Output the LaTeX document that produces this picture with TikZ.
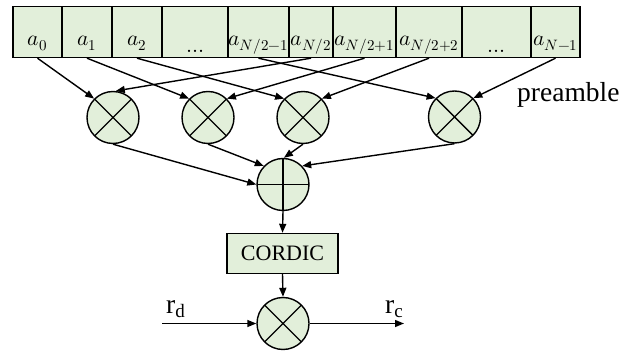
\documentclass[tikz,border=0pt]{standalone}
\usepackage{fontspec}
\usepackage{unicode-math}
\setmainfont{Liberation Serif}
\setmathfont{Latin Modern Math}
\usetikzlibrary{arrows.meta}
\definecolor{cellgreen}{RGB}{226,239,218}
\newcommand{\cellmath}[1]{{\fontsize{21.5}{24}\selectfont$#1$}}
\tikzset{
  ln/.style={line width=1.4pt},
  arr/.style={ln, -{Triangle[length=9pt,width=7pt]}},
  cell/.style={rectangle, draw, ln, fill=cellgreen, minimum height=51pt, inner sep=0pt},
  mult/.style={circle, draw, ln, fill=cellgreen, minimum size=52pt, inner sep=0pt,
    path picture={\draw[ln] (path picture bounding box.north west) -- (path picture bounding box.south east)
      (path picture bounding box.north east) -- (path picture bounding box.south west);}},
  adder/.style={circle, draw, ln, fill=cellgreen, minimum size=52pt, inner sep=0pt,
    path picture={\draw[ln] (path picture bounding box.north) -- (path picture bounding box.south)
      (path picture bounding box.west) -- (path picture bounding box.east);}},
  box/.style={rectangle, draw, ln, fill=cellgreen, minimum width=111pt, minimum height=40pt, inner sep=0pt,
    font=\fontsize{22}{24}\selectfont},
  atext/.style={anchor=base, inner sep=0pt},
  lbl/.style={anchor=base west, inner sep=0pt, font=\fontsize{27.5}{30}\selectfont},
}
\begin{document}
\begin{tikzpicture}[x=1pt,y=-1pt]
\useasboundingbox (0,0) rectangle (639,352);
% array cells
\node[cell, minimum width=49pt] (c0) at (37.5,32) {};
\node[cell, minimum width=50pt] (c1) at (87,32) {};
\node[cell, minimum width=50pt] (c2) at (137,32) {};
\node[cell, minimum width=66pt] (c3) at (195,32) {};
\node[cell, minimum width=61pt] (c4) at (258.5,32) {};
\node[cell, minimum width=44pt] (c5) at (311,32) {};
\node[cell, minimum width=63pt] (c6) at (364.5,32) {};
\node[cell, minimum width=66pt] (c7) at (429,32) {};
\node[cell, minimum width=69pt] (c8) at (496.5,32) {};
\node[cell, minimum width=49pt] (c9) at (555.5,32) {};
% cell texts
\node[atext] (t0) at (37.5,45.5) {\cellmath{a_0}};
\node[atext] (t1) at (87,45.5) {\cellmath{a_1}};
\node[atext] (t2) at (137,45.5) {\cellmath{a_2}};
\node[atext] (t3) at (195,53) {\cellmath{\symbf{\ldots}}};
\node[atext] (t4) at (258.5,45.5) {\cellmath{a_{N/2-1}}};
\node[atext] (t5) at (311,45.5) {\cellmath{a_{N/2}}};
\node[atext] (t6) at (364.5,45.5) {\cellmath{a_{N/2+1}}};
\node[atext] (t7) at (429,45.5) {\cellmath{a_{N/2+2}}};
\node[atext] (t8) at (496.5,53) {\cellmath{\symbf{\ldots}}};
\node[atext] (t9) at (555.5,45.5) {\cellmath{a_{N-1}}};
% multipliers
\node[mult] (m1) at (113,117.5) {};
\node[mult] (m2) at (208,117.5) {};
\node[mult] (m3) at (303,117.5) {};
\node[mult] (m4) at (454.5,117) {};
\node[lbl] (pre) at (517,102) {preamble};
% adder, cordic, final multiplier
\node[adder] (p) at (283,184.5) {};
\node[box] (cordic) at (282.5,253.5) {CORDIC};
\node[mult] (m5) at (283,323.5) {};
\coordinate (rin) at (162,323.5);
\coordinate (rout) at (404,323.5);
\node[lbl] (rd) at (166,313) {r\lower4pt\hbox{\fontsize{19}{20}\selectfont d}};
\node[lbl] (rc) at (385,313) {r\lower4pt\hbox{\fontsize{19}{20}\selectfont c}};
% connectors from array
\draw[arr] (c0.south) -- (m1.135);
\draw[arr] (c1.south) -- (m2.135);
\draw[arr] (c2.south) -- (m3.135);
\draw[arr] (c4.south) -- (m4.135);
\draw[arr] (c5.south) -- (m1.84);
\draw[arr] (c6.south) -- (m2.45);
\draw[arr] (c7.south) -- (m3.45);
\draw[arr] (c9.south) -- (m4.45);
% to adder
\draw[arr] (m1.south) -- (p.west);
\draw[arr] (m2.south) -- (p.136);
\draw[arr] (m3.south) -- (p.88);
\draw[arr] (m4.south) -- (p.44);
% chain
\draw[arr] (p.south) -- (cordic.north);
\draw[arr] (cordic.south) -- (m5.north);
\draw[arr] (rin) -- (m5.west);
\draw[arr] (m5.east) -- (rout);
\end{tikzpicture}
\end{document}
